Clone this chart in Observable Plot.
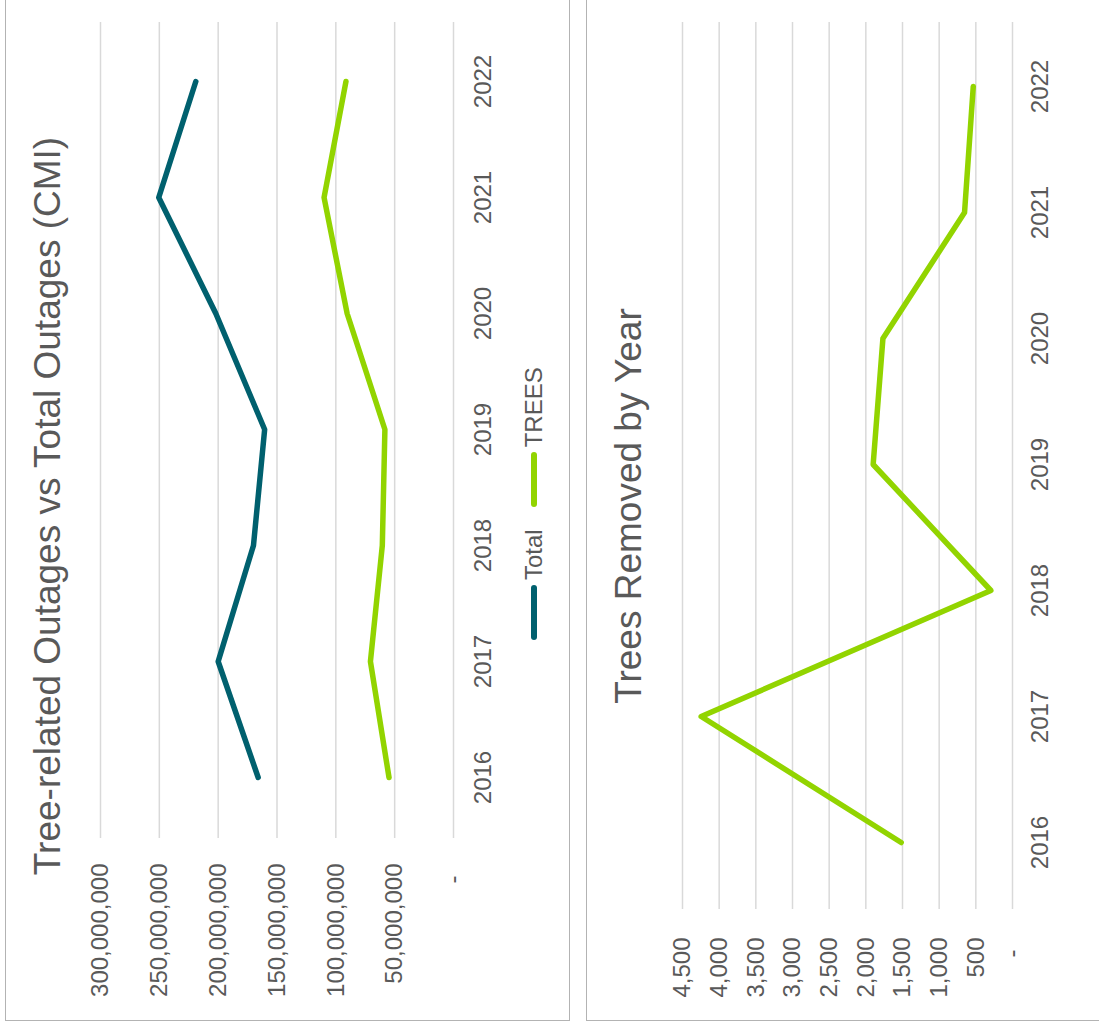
<!DOCTYPE html>
<html>
<head>
<meta charset="utf-8">
<script src="https://cdn.jsdelivr.net/npm/d3@7"></script>
<script src="https://cdn.jsdelivr.net/npm/@observablehq/plot@0.6"></script>
<style>
  html, body { margin: 0; padding: 0; background: #fff; }
  #page { position: relative; width: 1099px; height: 1036px; overflow: hidden; background: #fff;
          font-family: "Liberation Sans", Arial, sans-serif; color: #595959; }
  .panel { position: absolute; width: 1030px; height: 565px; transform-origin: 0 0;
           transform: translate(0, 1030px) rotate(-90deg); }
  .frame { position: absolute; left: 0; top: 0; width: 1030px; height: 565px; box-sizing: border-box;
           border: 1.5px solid #b3b3b3; }
  .title { position: absolute; left: 0; width: 1030px; top: 24px; text-align: center;
           font-size: 37px; line-height: 37px; color: #595959; white-space: nowrap; }
  .plotbox { position: absolute; left: 0; top: 0; }
  .legend { position: absolute; display: flex; align-items: center; height: 24px;
            font-size: 24px; line-height: 24px; color: #595959; }
  .legend .item { display: flex; align-items: center; margin-right: 22px; }
  .legend .swatch { width: 55px; height: 5.5px; border-radius: 3px; margin-right: 5px; }
</style>
</head>
<body>
<div id="page"></div>
<script>
// Years on the category axis
const years = ["2016", "2017", "2018", "2019", "2020", "2021", "2022"];

// Customer minutes interrupted (CMI)
const totalOutages = [166000000, 200000000, 170000000, 160500000, 202000000, 250500000, 219000000];
const treeOutages  = [54800000, 70600000, 60500000, 58300000, 90400000, 110000000, 91400000];

// Trees removed each year
const treesRemoved = [1518, 4245, 295, 1900, 1767, 654, 535];

// Series names and colours
const seriesNames  = ["Total", "TREES"];
const seriesColors = ["#00606e", "#92d400"];

// Value-axis tick labels
const outageTicks  = [0, 50000000, 100000000, 150000000, 200000000, 250000000, 300000000];
const removedTicks = [0, 500, 1000, 1500, 2000, 2500, 3000, 3500, 4000, 4500];

const titles = ["Tree-related Outages vs Total Outages (CMI)", "Trees Removed by Year"];

const FONT = '"Liberation Sans", Arial, sans-serif';
const TEXT = "#595959";
const GRID = "#d9d9d9";
const FS = 24;

// Accounting-style number format: zero shows as a dash
const fmt = d => d === 0 ? "-\u2002" : d3.format(",")(d);

const page = document.getElementById("page");

function makePanel(left, title) {
  const panel = document.createElement("div");
  panel.className = "panel";
  panel.style.left = left + "px";
  panel.style.top = "-9px";
  const frame = document.createElement("div");
  frame.className = "frame";
  panel.appendChild(frame);
  const t = document.createElement("div");
  t.className = "title";
  t.textContent = title;
  panel.appendChild(t);
  page.appendChild(panel);
  return panel;
}

// ---- Panel 1: tree-related vs total outages ----
const outageRows = [];
years.forEach((y, i) => {
  outageRows.push({year: y, value: totalOutages[i], series: seriesNames[0]});
  outageRows.push({year: y, value: treeOutages[i], series: seriesNames[1]});
});

const p1 = makePanel(5, titles[0]);
const chart1 = Plot.plot({
  width: 1030,
  height: 565,
  marginLeft: 183,
  marginRight: 31,
  marginTop: 95,
  marginBottom: 117,
  style: {fontFamily: FONT, fontSize: FS + "px", color: TEXT, background: "transparent", overflow: "visible"},
  x: {type: "point", domain: years, padding: 0.5, label: null},
  y: {domain: [0, 300000000], label: null},
  color: {domain: seriesNames, range: seriesColors},
  marks: [
    Plot.gridY(outageTicks, {stroke: GRID, strokeOpacity: 1, strokeWidth: 1.5}),
    Plot.axisY(outageTicks, {tickSize: 0, tickPadding: 26, tickFormat: fmt, fontSize: FS, fill: TEXT, label: null}),
    Plot.axisX({tickSize: 0, tickPadding: 20, fontSize: FS, fill: TEXT, label: null}),
    Plot.line(outageRows, {x: "year", y: "value", z: "series", stroke: "series",
      strokeWidth: 5.5, strokeLinecap: "round", strokeLinejoin: "round"})
  ]
});
const box1 = document.createElement("div");
box1.className = "plotbox";
box1.appendChild(chart1);
p1.appendChild(box1);

// Legend for panel 1
const legend = document.createElement("div");
legend.className = "legend";
legend.style.left = "381px";
legend.style.top = "517px";
seriesNames.forEach((name, i) => {
  const item = document.createElement("div");
  item.className = "item";
  const sw = document.createElement("span");
  sw.className = "swatch";
  sw.style.background = seriesColors[i];
  const lab = document.createElement("span");
  lab.textContent = name;
  item.appendChild(sw);
  item.appendChild(lab);
  legend.appendChild(item);
});
p1.appendChild(legend);

// ---- Panel 2: trees removed by year ----
const removedRows = years.map((y, i) => ({year: y, value: treesRemoved[i]}));

const p2 = makePanel(586, titles[1]);
const chart2 = Plot.plot({
  width: 1030,
  height: 565,
  marginLeft: 112,
  marginRight: 31,
  marginTop: 96,
  marginBottom: 139,
  style: {fontFamily: FONT, fontSize: FS + "px", color: TEXT, background: "transparent", overflow: "visible"},
  x: {type: "point", domain: years, padding: 0.5, label: null},
  y: {domain: [0, 4500], label: null},
  marks: [
    Plot.gridY(removedTicks, {stroke: GRID, strokeOpacity: 1, strokeWidth: 1.5}),
    Plot.axisY(removedTicks, {tickSize: 0, tickPadding: 29, tickFormat: fmt, fontSize: FS, fill: TEXT, label: null}),
    Plot.axisX({tickSize: 0, tickPadding: 18, fontSize: FS, fill: TEXT, label: null}),
    Plot.line(removedRows, {x: "year", y: "value", stroke: seriesColors[1],
      strokeWidth: 5.5, strokeLinecap: "round", strokeLinejoin: "round"})
  ]
});
const box2 = document.createElement("div");
box2.className = "plotbox";
box2.appendChild(chart2);
p2.appendChild(box2);
</script>
</body>
</html>
